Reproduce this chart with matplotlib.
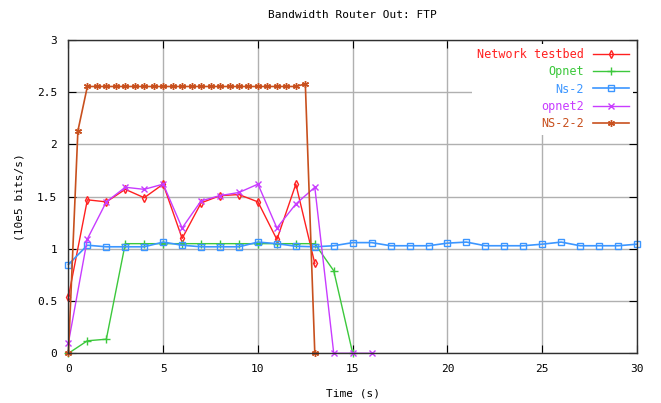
import numpy as np
from matplotlib import pyplot as plt

# time axes
t_int = [0, 1, 2, 3, 4, 5, 6, 7, 8, 9, 10, 11, 12, 13, 14, 15, 16, 17, 18, 19,
         20, 21, 22, 23, 24, 25, 26, 27, 28, 29, 30]
t_half = np.arange(0, 13.5, 0.5)

# series values (10e5 bits/s)
testbed = [0.54, 1.47, 1.45, 1.57, 1.49, 1.62, 1.10, 1.44, 1.51, 1.52, 1.45,
           1.09, 1.62, 0.86]
opnet = [0.0, 0.12, 0.135, 1.05, 1.05, 1.05, 1.05, 1.05, 1.05, 1.05, 1.05,
         1.05, 1.05, 1.05, 0.79, 0.0]
ns2 = [0.85, 1.035, 1.02, 1.02, 1.02, 1.065, 1.035, 1.02, 1.02, 1.02, 1.065,
       1.05, 1.025, 1.02, 1.03, 1.06, 1.06, 1.03, 1.03, 1.03, 1.055, 1.065,
       1.03, 1.03, 1.03, 1.045, 1.065, 1.03, 1.03, 1.03, 1.045]
opnet2 = [0.10, 1.095, 1.45, 1.59, 1.57, 1.62, 1.20, 1.46, 1.51, 1.54, 1.62,
          1.20, 1.43, 1.59, 0.0, 0.0, 0.0]
ns22 = [0.0, 2.13, 2.555, 2.555, 2.555, 2.555, 2.555, 2.555, 2.555, 2.555,
        2.555, 2.555, 2.555, 2.555, 2.555, 2.555, 2.555, 2.555, 2.555, 2.555,
        2.555, 2.555, 2.555, 2.555, 2.555, 2.58, 0.0]

plt.rcParams['font.family'] = 'DejaVu Sans Mono'
plt.rcParams['font.size'] = 8

fig = plt.figure(figsize=(6.61, 4.03), dpi=100)
ax = fig.add_axes([0.1035, 0.1233, 0.8602, 0.7774])

ax.plot(t_int[:len(testbed)], testbed, color='#ff2020', lw=1, marker='d',
        ms=4, mfc='none', mew=1, label='Network testbed', clip_on=False)
ax.plot(t_int[:len(opnet)], opnet, color='#3cc83c', lw=1, marker='+',
        ms=6, mew=1, label='Opnet', clip_on=False)
ax.plot(t_int[:len(ns2)], ns2, color='#3c96ff', lw=1.2, marker='s',
        ms=4.5, mfc='none', mew=1, label='Ns-2', clip_on=False)
ax.plot(t_int[:len(opnet2)], opnet2, color='#c83cff', lw=1, marker='x',
        ms=4.5, mew=1, label='opnet2', clip_on=False)
ax.plot(t_half, ns22, color='#c8501e', lw=1.2, marker=(6, 2, 0),
        ms=5, mew=1, label='NS-2-2', clip_on=False)

ax.set_xlim(0, 30)
ax.set_ylim(0, 3)
ax.set_xticks([0, 5, 10, 15, 20, 25, 30])
ax.set_yticks([0, 0.5, 1, 1.5, 2, 2.5, 3])
ax.set_yticklabels(['0', '0.5', '1', '1.5', '2', '2.5', '3'])
ax.grid(True, color='#b0b0b0', lw=1)
ax.set_axisbelow(True)
ax.tick_params(direction='in', length=6, top=True, right=True, pad=8,
               labelsize=8)
for s in ax.spines.values():
    s.set_linewidth(1)
    s.set_color('#303030')

ax.set_title('Bandwidth Router Out: FTP', fontsize=8, pad=16)
ax.set_xlabel('Time (s)', fontsize=8, labelpad=10)
ax.set_ylabel('(10e5 bits/s)', fontsize=8, labelpad=9)

leg = ax.legend(loc='upper right', markerfirst=False, handlelength=3,
                frameon=True, framealpha=1, facecolor='white',
                edgecolor='none', fancybox=False, borderaxespad=0.3,
                labelspacing=0.35, fontsize=8.5,
                labelcolor=['#ff2020', '#3cc83c', '#3c96ff', '#c83cff',
                            '#c8501e'])
for txt in leg.get_texts():
    txt.set_ha('right')
leg._legend_box.align = 'right'

fig.savefig('out.png', dpi=100)
